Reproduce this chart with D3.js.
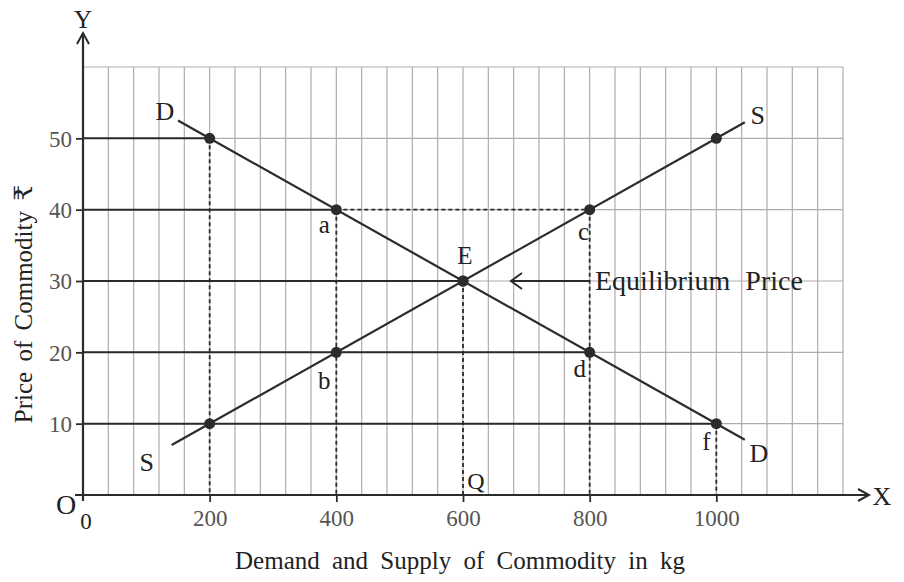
<!DOCTYPE html>
<html>
<head>
<meta charset="utf-8">
<script src="https://cdn.jsdelivr.net/npm/d3@7"></script>
<style>
  html, body { margin: 0; padding: 0; background: #fff; }
  svg { display: block; }
  text { font-family: "Liberation Serif", "Times New Roman", "DejaVu Serif", serif; }
</style>
</head>
<body>
<svg id="chart" width="904" height="582"></svg>
<script>
// ---------- data ----------
const xTicks = [200, 400, 600, 800, 1000];
const yTicks = [10, 20, 30, 40, 50];
const gridX = d3.range(40, 1201, 40);
const gridY = [10, 20, 30, 40, 50, 60];

// demand schedule (quantity, price)
const demandQty = [200, 400, 600, 800, 1000];
const demandPrice = [50, 40, 30, 20, 10];
// supply schedule (quantity, price)
const supplyQty = [200, 400, 600, 800, 1000];
const supplyPrice = [10, 20, 30, 40, 50];
// extended curve ends (quantity, price)
const demandEnds = [[150, 52.5], [1045, 7.75]];
const supplyEnds = [[140, 7.0], [1045, 52.25]];

// point labels: [text, qty, price, dx, dy]
const pointLabels = [
  ["a", 400, 40, -12, 23],
  ["b", 400, 20, -12, 37],
  ["c", 800, 40, -6, 30],
  ["d", 800, 20, -10, 25],
  ["f", 1000, 10, -10, 26],
  ["E", 600, 30, 2, -17]
];
const curveLabels = [
  ["D", 150, 52.5, -13, -1],
  ["S", 1045, 52.25, 13, 2],
  ["S", 140, 7.0, -25, 26],
  ["D", 1045, 7.75, 14, 22]
];

// ---------- scales ----------
const svg = d3.select("#chart");
const x = d3.scaleLinear().domain([0, 1200]).range([83, 843]);
const y = d3.scaleLinear().domain([0, 60]).range([495, 67]);

const dark = "#2b2b2b";
const gridCol = "#b3abab";

// grid
svg.append("g").selectAll("line").data(gridX).join("line")
  .attr("x1", d => x(d)).attr("x2", d => x(d))
  .attr("y1", y(0)).attr("y2", y(60))
  .attr("stroke", gridCol).attr("stroke-width", 1.2);
svg.append("g").selectAll("line").data(gridY).join("line")
  .attr("x1", x(0)).attr("x2", x(1200))
  .attr("y1", d => y(d)).attr("y2", d => y(d))
  .attr("stroke", gridCol).attr("stroke-width", 1.2);

// solid horizontal price lines from the axis
const hLines = [[50, 200], [40, 400], [30, 600], [20, 800], [10, 1000]];
svg.append("g").selectAll("line").data(hLines).join("line")
  .attr("x1", x(0)).attr("x2", d => x(d[1]))
  .attr("y1", d => y(d[0])).attr("y2", d => y(d[0]))
  .attr("stroke", dark).attr("stroke-width", 2);

// dashed lines
const dashed = [
  [[400, 40], [800, 40]],
  [[200, 50], [200, 0]],
  [[400, 40], [400, 0]],
  [[600, 30], [600, 0]],
  [[800, 40], [800, 0]],
  [[1000, 10], [1000, 0]]
];
svg.append("g").selectAll("line").data(dashed).join("line")
  .attr("x1", d => x(d[0][0])).attr("y1", d => y(d[0][1]))
  .attr("x2", d => x(d[1][0])).attr("y2", d => y(d[1][1]))
  .attr("stroke", dark).attr("stroke-width", 1.8)
  .attr("stroke-dasharray", "4,3");

// curves
const line = d3.line().x(d => x(d[0])).y(d => y(d[1]));
svg.append("path").attr("d", line(demandEnds))
  .attr("fill", "none").attr("stroke", dark).attr("stroke-width", 2.2);
svg.append("path").attr("d", line(supplyEnds))
  .attr("fill", "none").attr("stroke", dark).attr("stroke-width", 2.2);

// points
const pts = demandQty.map((q, i) => [q, demandPrice[i]])
  .concat(supplyQty.map((q, i) => [q, supplyPrice[i]]));
svg.append("g").selectAll("circle").data(pts).join("circle")
  .attr("cx", d => x(d[0])).attr("cy", d => y(d[1])).attr("r", 5.5)
  .attr("fill", dark);

// axes lines
svg.append("line").attr("x1", x(0)).attr("x2", x(0)).attr("y1", 501).attr("y2", 33)
  .attr("stroke", dark).attr("stroke-width", 2.2);
svg.append("polyline").attr("points", `${x(0)-6},44 ${x(0)},33 ${x(0)+6},44`)
  .attr("fill", "none").attr("stroke", dark).attr("stroke-width", 2);
svg.append("line").attr("x1", 75).attr("x2", 869).attr("y1", y(0)).attr("y2", y(0))
  .attr("stroke", dark).attr("stroke-width", 2.2);
svg.append("polyline").attr("points", `858,${y(0)-6} 869,${y(0)} 858,${y(0)+6}`)
  .attr("fill", "none").attr("stroke", dark).attr("stroke-width", 2);

// d3 axes for ticks & labels
const yAxis = d3.axisLeft(y).tickValues(yTicks).tickSize(7).tickPadding(4);
const gy = svg.append("g").attr("transform", `translate(${x(0)},0)`).call(yAxis);
gy.select(".domain").remove();
gy.selectAll(".tick line").attr("stroke", dark).attr("stroke-width", 1.8);
gy.selectAll(".tick text").attr("font-size", 23).attr("fill", "#555")
  .attr("font-family", "Liberation Serif, serif").attr("dy", "0.34em");

const xAxis = d3.axisBottom(x).tickValues(xTicks).tickSize(7).tickPadding(8)
  .tickFormat(d3.format("d"));
const gx = svg.append("g").attr("transform", `translate(0,${y(0)})`).call(xAxis);
gx.select(".domain").remove();
gx.selectAll(".tick line").attr("stroke", dark).attr("stroke-width", 1.8);
gx.selectAll(".tick text").attr("font-size", 23).attr("fill", "#555")
  .attr("font-family", "Liberation Serif, serif");

// equilibrium arrow
const arrowY = y(30);
svg.append("line").attr("x1", 590).attr("x2", 512).attr("y1", arrowY).attr("y2", arrowY)
  .attr("stroke", dark).attr("stroke-width", 2);
svg.append("polyline").attr("points", `522,${arrowY-8} 511,${arrowY} 522,${arrowY+8}`)
  .attr("fill", "none").attr("stroke", dark).attr("stroke-width", 2);
svg.append("text").attr("x", 595).attr("y", arrowY + 9)
  .attr("font-size", 28).attr("fill", "#222").attr("word-spacing", 8)
  .text("Equilibrium Price");

// labels
svg.append("g").selectAll("text").data(pointLabels).join("text")
  .attr("x", d => x(d[1]) + d[3]).attr("y", d => y(d[2]) + d[4])
  .attr("text-anchor", "middle").attr("font-size", 25).attr("fill", "#222")
  .text(d => d[0]);
svg.append("g").selectAll("text").data(curveLabels).join("text")
  .attr("x", d => x(d[1]) + d[3]).attr("y", d => y(d[2]) + d[4])
  .attr("text-anchor", "middle").attr("font-size", 26).attr("fill", "#222")
  .text(d => d[0]);

svg.append("text").attr("x", 476).attr("y", 489).attr("text-anchor", "middle")
  .attr("font-size", 24).attr("fill", "#222").attr("font-family", "Liberation Sans, sans-serif").text("Q");
svg.append("text").attr("x", 83).attr("y", 28).attr("text-anchor", "middle")
  .attr("font-size", 25).attr("fill", "#222").text("Y");
svg.append("text").attr("x", 882).attr("y", 505).attr("text-anchor", "middle")
  .attr("font-size", 26).attr("fill", "#222").text("X");
svg.append("text").attr("x", 66).attr("y", 514).attr("text-anchor", "middle")
  .attr("font-size", 28).attr("fill", "#222").text("O");
svg.append("text").attr("x", 86).attr("y", 529).attr("text-anchor", "middle")
  .attr("font-size", 23).attr("fill", "#222").text("0");

// axis titles
svg.append("text").attr("x", 460).attr("y", 569).attr("text-anchor", "middle")
  .attr("font-size", 25).attr("fill", "#222").attr("word-spacing", 6)
  .text("Demand and Supply of Commodity in kg");
svg.append("text").attr("transform", "translate(32,304) rotate(-90)")
  .attr("text-anchor", "middle").attr("font-size", 25).attr("fill", "#222").attr("word-spacing", 4)
  .text("Price of Commodity ₹");
</script>
</body>
</html>
